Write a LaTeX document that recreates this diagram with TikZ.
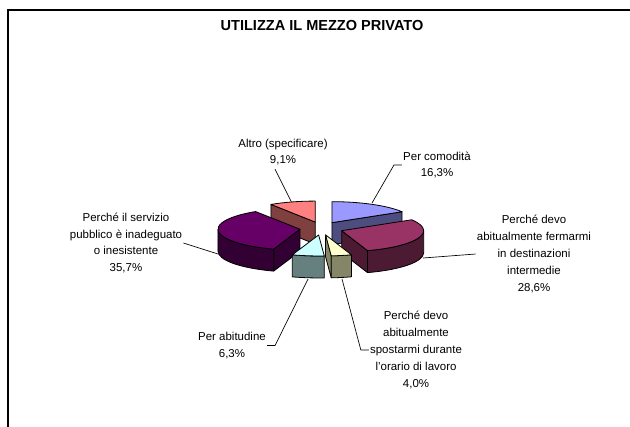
\documentclass[tikz,border=0pt]{standalone}
\usepackage{fontspec}
\setmainfont{Liberation Sans}
\usepackage{xcolor}
\usepackage{tikz}

\definecolor{comtop}{HTML}{9999FF}
\definecolor{comside}{HTML}{4D4D80}
\definecolor{fermtop}{HTML}{993366}
\definecolor{fermside}{HTML}{4D1A33}
\definecolor{spostop}{HTML}{FFFFCC}
\definecolor{sposside}{HTML}{858568}
\definecolor{abittop}{HTML}{CCFFFF}
\definecolor{abitside}{HTML}{668080}
\definecolor{servtop}{HTML}{660066}
\definecolor{servside}{HTML}{330033}
\definecolor{alttop}{HTML}{FF8080}
\definecolor{altside}{HTML}{804040}

\tikzset{
  slice/.style={draw=black,line width=0.6pt,line join=round},
  lbl/.style={inner sep=0.75pt,align=center,font=\fontsize{8.6}{12.6}\selectfont},
  leader/.style={draw=black,line width=0.5pt}
}

\begin{document}
\begin{tikzpicture}[x=0.75pt,y=0.75pt,yscale=-1,xscale=1]

\clip (0,0) rectangle (630,426);
\fill[white] (0,0) rectangle (630,426);

% frame
\draw[line width=1.1pt] (8,10) rectangle (650,446);

\draw (322,25) node [inner sep=0.75pt][font=\fontsize{10.9}{13}\selectfont\bfseries] (title) {UTILIZZA IL MEZZO PRIVATO};

% pie, y up again inside
\begin{scope}[shift={(321.4,228.4)},yscale=-1]

% Altro (specificare)
\begin{scope}[shift={(106.38:21.6 and 6.6)}]
\draw[slice,fill=altside] (0,0) -- (122.76:82 and 21) -- ++(0,-22) -- (0,-22) -- cycle;
\draw[slice,fill=alttop] (0,0) -- (122.76:82 and 21) arc[start angle=122.76,end angle=90,x radius=82,y radius=21] -- cycle;
\end{scope}

% Per comodita
\begin{scope}[shift={(60.66:21.6 and 6.6)}]
\draw[slice,fill=comside] (0,0) -- (31.32:82 and 21) -- ++(0,-22) -- (0,-22) -- cycle;
\draw[slice,fill=comtop] (0,0) -- (90:82 and 21) arc[start angle=90,end angle=31.32,x radius=82,y radius=21] -- cycle;
\end{scope}

% servizio inadeguato
\begin{scope}[shift={(-172.98:21.6 and 6.6)}]
\draw[slice,fill=servside] (0,0) -- (-108.72:82 and 21) -- ++(0,-22) -- (0,-22) -- cycle;
\draw[slice,fill=servside] (-108.72:82 and 21) arc[start angle=-108.72,end angle=-180,x radius=82,y radius=21] -- ++(0,-22) arc[start angle=-180,end angle=-108.72,x radius=82,y radius=21] -- cycle;
\draw[slice,fill=servtop] (0,0) -- (-108.72:82 and 21) arc[start angle=-108.72,end angle=-237.24,x radius=82,y radius=21] -- cycle;
\end{scope}

% fermarmi
\begin{scope}[shift={(-20.16:21.6 and 6.6)}]
\draw[slice,fill=fermside] (0,0) -- (-71.64:82 and 21) -- ++(0,-22) -- (0,-22) -- cycle;
\draw[slice,fill=fermside] (0:82 and 21) arc[start angle=0,end angle=-71.64,x radius=82,y radius=21] -- ++(0,-22) arc[start angle=-71.64,end angle=0,x radius=82,y radius=21] -- cycle;
\draw[slice,fill=fermtop] (0,0) -- (31.32:82 and 21) arc[start angle=31.32,end angle=-71.64,x radius=82,y radius=21] -- cycle;
\end{scope}

% spostarmi
\begin{scope}[shift={(-78.84:21.6 and 6.6)}]
\draw[slice,fill=sposside] (0,0) -- (-86.04:82 and 21) -- ++(0,-22) -- (0,-22) -- cycle;
\draw[slice,fill=sposside] (-71.64:82 and 21) arc[start angle=-71.64,end angle=-86.04,x radius=82,y radius=21] -- ++(0,-22) arc[start angle=-86.04,end angle=-71.64,x radius=82,y radius=21] -- cycle;
\draw[slice,fill=spostop] (0,0) -- (-71.64:82 and 21) arc[start angle=-71.64,end angle=-86.04,x radius=82,y radius=21] -- cycle;
\end{scope}

% abitudine
\begin{scope}[shift={(-97.38:21.6 and 6.6)}]
\draw[slice,fill=abitside] (-86.04:82 and 21) arc[start angle=-86.04,end angle=-108.72,x radius=82,y radius=21] -- ++(0,-22) arc[start angle=-108.72,end angle=-86.04,x radius=82,y radius=21] -- cycle;
\draw[slice,fill=abittop] (0,0) -- (-86.04:82 and 21) arc[start angle=-86.04,end angle=-108.72,x radius=82,y radius=21] -- cycle;
\end{scope}

\end{scope}

% leader ends on the slices
\coordinate (palt) at (291.5,202);
\coordinate (pcom) at (372,203);
\coordinate (pferm) at (423,258);
\coordinate (pserv) at (218,254);
\coordinate (pabit) at (308,279);
\coordinate (pspos) at (342,279);

% labels
\draw (283,152) node [lbl] (laltro) {Altro (specificare)\\9,1\%};
\draw (437,165) node [lbl] (lcom) {Per comodità\\16,3\%};
\draw (534,254) node [lbl] (lferm) {Perché devo\\abitualmente fermarmi\\in destinazioni\\intermedie\\28,6\%};
\draw (126,243) node [lbl] (lserv) {Perché il servizio\\pubblico è inadeguato\\o inesistente\\35,7\%};
\draw (232,345.5) node [lbl] (labit) {Per abitudine\\6,3\%};
\draw (416,350) node [lbl] (lspos) {Perché devo\\abitualmente\\spostarmi durante\\l'orario di lavoro\\4,0\%};

% leader lines
\draw[leader] (palt) -- ([xshift=-6,yshift=2]laltro.south);
\draw[leader] (pcom) -- ([xshift=-6]lcom.west) -- (lcom.west);
\draw[leader] (pferm) -- (lferm.west);
\draw[leader] (pserv) -- (lserv.east);
\draw[leader] (pabit) -- ([xshift=6]labit.east) -- (labit.east);
\draw[leader] (pspos) -- ([xshift=-6]lspos.west) -- (lspos.west);

\end{tikzpicture}
\end{document}
